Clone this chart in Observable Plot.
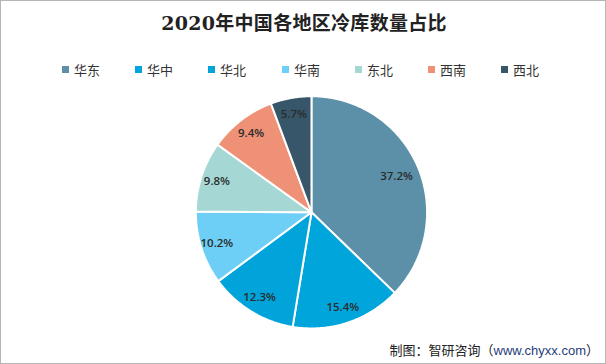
<!DOCTYPE html>
<html>
<head>
<meta charset="utf-8">
<script src="https://cdn.jsdelivr.net/npm/d3@7"></script>
<script src="https://cdn.jsdelivr.net/npm/@observablehq/plot@0.6"></script>
<style>
  html, body { margin: 0; padding: 0; background: #fff; }
  #wrap { position: relative; width: 606px; height: 364px; box-sizing: border-box; border: 1px solid #b5b5b5; overflow: hidden; font-family: "Noto Sans CJK SC", "Noto Sans", sans-serif; }
  #title { position: absolute; left: 0; width: 606px; top: 7px; text-align: center; font-size: 19px; font-weight: bold; color: #222; letter-spacing: 0.3px; font-family: "DejaVu Serif", "Noto Sans CJK SC", serif; }
  #legend { position: absolute; top: 58px; left: 0; width: 606px; height: 20px; font-size: 13px; color: #333; }
  .item { position: absolute; top: 0; display: flex; align-items: center; height: 20px; }
  .sw { width: 7px; height: 7px; margin-right: 5px; }
  #chart { position: absolute; left: 0; top: 0; }
  #caption { position: absolute; right: 6px; bottom: 4px; font-size: 13px; color: #222; }
  #caption .url { color: #1f3d7a; font-family: "Liberation Sans", Arial, sans-serif; }
</style>
</head>
<body>
<div id="wrap">
  <div id="chart"></div>
  <div id="title">2020年中国各地区冷库数量占比</div>
  <div id="legend"></div>
  <div id="caption">制图：智研咨询（<span class="url">www.chyxx.com</span>）</div>
</div>
<script>
const regions = ["华东", "华中", "华北", "华南", "东北", "西南", "西北"];
const shares = [37.2, 15.4, 12.3, 10.2, 9.8, 9.4, 5.7];
const colors = ["#5B90A8", "#00A5DC", "#00A3DA", "#6DCFF6", "#A5D8D4", "#EE9177", "#37566A"];
const legendX = [61, 134, 207, 281, 354, 427, 500];

// slice geometry from d3.pie (start at 12 o'clock, clockwise)
const arcs = d3.pie().sort(null).value(d => d)(shares);
const polys = [];
const labels = [];
arcs.forEach((a, i) => {
  polys.push({region: regions[i], x: 0, y: 0});
  const n = Math.max(2, Math.ceil((a.endAngle - a.startAngle) / 0.01));
  for (let k = 0; k <= n; k++) {
    const t = a.startAngle + (a.endAngle - a.startAngle) * k / n;
    polys.push({region: regions[i], x: Math.sin(t), y: Math.cos(t)});
  }
  const m = (a.startAngle + a.endAngle) / 2;
  const lr = i === 0 ? 0.8 : 0.86;
  labels.push({region: regions[i], x: lr * Math.sin(m), y: lr * Math.cos(m), text: shares[i].toFixed(1) + "%"});
});

const plot = Plot.plot({
  width: 606,
  height: 364,
  marginLeft: 195,
  marginRight: 179,
  marginTop: 95,
  marginBottom: 36,
  x: {domain: [-1, 1], axis: null},
  y: {domain: [-1, 1], axis: null},
  color: {domain: regions, range: colors},
  marks: [
    Plot.line(polys, {x: "x", y: "y", z: "region", fill: "region", stroke: "white", strokeWidth: 2, curve: "linear-closed", strokeLinejoin: "miter"}),
    Plot.text(labels, {x: "x", y: "y", text: "text", fill: "#2b2b2b", fontSize: 11.5, fontWeight: 600, fontFamily: "Open Sans, Liberation Sans, sans-serif"})
  ]
});
document.getElementById("chart").appendChild(plot);

const legend = document.getElementById("legend");
regions.forEach((r, i) => {
  const it = document.createElement("div");
  it.className = "item";
  it.style.left = legendX[i] + "px";
  it.innerHTML = `<span class="sw" style="background:${colors[i]}"></span><span>${r}</span>`;
  legend.appendChild(it);
});
</script>
</body>
</html>
